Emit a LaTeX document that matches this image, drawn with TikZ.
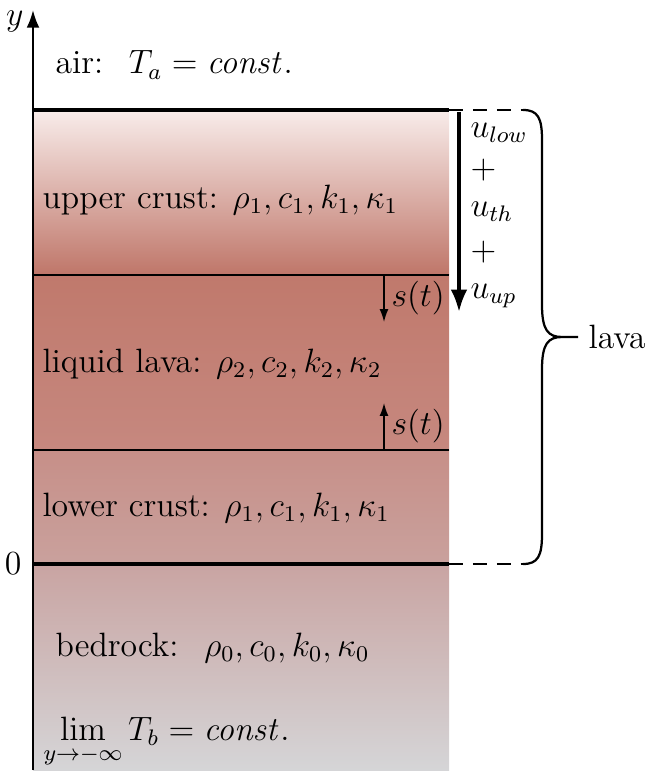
\documentclass[tikz,border=0pt]{standalone}
\usepackage{tikz}
\usetikzlibrary{positioning,arrows.meta}
\usepackage{amsmath,amssymb}
\usepackage{xcolor}

\definecolor{crustA}{RGB}{248,236,234}
\definecolor{crustB}{RGB}{205,150,140}
\definecolor{crustC}{RGB}{191,118,105}
\definecolor{lavaA}{RGB}{192,121,108}
\definecolor{lavaB}{RGB}{198,136,127}
\definecolor{lowA}{RGB}{199,143,136}
\definecolor{lowB}{RGB}{201,161,157}
\definecolor{rockA}{RGB}{201,164,162}
\definecolor{rockB}{RGB}{207,192,192}
\definecolor{rockC}{RGB}{213,213,215}

\begin{document}
\begin{tikzpicture}[x=0.0125cm, y=-0.0125cm,
  font=\large,
  lbl/.style={anchor=west, inner sep=0pt},
  bound/.style={line width=1.3pt},
  layer/.style={line width=0.6pt},
  ext/.style={line width=0.6pt, dash pattern=on 5pt off 3.5pt},
  sarrow/.style={-{Latex[length=1.6mm,width=1.1mm]}, line width=0.5pt},
  uarrow/.style={-{Latex[length=2.8mm,width=2.1mm]}, line width=1.3pt},
  axis/.style={-{Latex[length=2.2mm,width=1.6mm]}, line width=0.8pt}
]
\useasboundingbox (0,0) rectangle (648,776);

% layers
\shade[top color=crustA, middle color=crustB, bottom color=crustC] (33,110) rectangle (449,275);
\shade[top color=lavaA, bottom color=lavaB] (33,275) rectangle (449,450);
\shade[top color=lowA, bottom color=lowB] (33,450) rectangle (449,564);
\shade[top color=rockA, middle color=rockB, bottom color=rockC] (33,564) rectangle (449,770);

\coordinate (surfL) at (33,110);
\coordinate (surfR) at (449,110);
\coordinate (surfE) at (523,110);
\coordinate (upL) at (33,275);
\coordinate (upR) at (449,275);
\coordinate (lowL) at (33,450);
\coordinate (lowR) at (449,450);
\coordinate (baseL) at (33,564);
\coordinate (baseR) at (449,564);
\coordinate (baseE) at (523,564);

\draw[bound] (surfL) -- (surfR);
\draw[ext] (surfR) -- (surfE);
\draw[layer] (upL) -- (upR);
\draw[layer] (lowL) -- (lowR);
\draw[bound] (baseL) -- (baseR);
\draw[ext] (baseR) -- (baseE);

% axis
\coordinate (axB) at (33,770);
\coordinate (axT) at (33,10);
\draw[axis] (axB) -- (axT);
\node[anchor=east, inner sep=0pt] (ylab) at (24,22) {$y$};
\node[anchor=east, inner sep=0pt] (zero) at (22,564) {$0$};

% texts
\node[lbl] (air) at (55,65) {air: \ $T_a = \mathit{const.}$};
\node[lbl] (upper) at (42,200) {upper crust: $\rho_1, c_1, k_1, \kappa_1$};
\node[lbl] (liquid) at (42,364) {liquid lava: $\rho_2, c_2, k_2, \kappa_2$};
\node[lbl] (lower) at (42,508) {lower crust: $\rho_1, c_1, k_1, \kappa_1$};
\node[lbl] (rock) at (55,648) {bedrock: \ $\rho_0, c_0, k_0, \kappa_0$};
\node[lbl] (limit) at (43,743) {$\displaystyle\lim_{y\to-\infty} T_b = \mathit{const.}$};

% front velocity
\coordinate (uS) at (459,112);
\coordinate (uE) at (459,312);
\draw[uarrow] (uS) -- (uE);
\node[lbl] (ulow) at (470,133) {$u_{low}$};
\node[lbl] (plusA) at (470,170) {$+$};
\node[lbl] (uth) at (470,212) {$u_{th}$};
\node[lbl] (plusB) at (470,252) {$+$};
\node[lbl] (uup) at (470,296) {$u_{up}$};

% s(t)
\coordinate (sA) at (384,275);
\coordinate (sAe) at (384,322);
\draw[sarrow] (sA) -- (sAe);
\node[lbl] (stA) at (391,298) {$s(t)$};
\coordinate (sB) at (384,450);
\coordinate (sBe) at (384,403);
\draw[sarrow] (sB) -- (sBe);
\node[lbl] (stB) at (391,426) {$s(t)$};

% brace
\coordinate (tip) at (578,337);
\draw[line width=0.8pt] (surfE) .. controls (538,110) and (542,118) .. (542,140)
  -- (542,305) .. controls (542,330) and (548,337) .. (562,337) -- (tip)
  -- (562,337) .. controls (548,337) and (542,344) .. (542,369)
  -- (542,534) .. controls (542,556) and (538,564) .. (baseE);
\node[lbl] (lava) at (588,337) {lava};
\end{tikzpicture}
\end{document}
